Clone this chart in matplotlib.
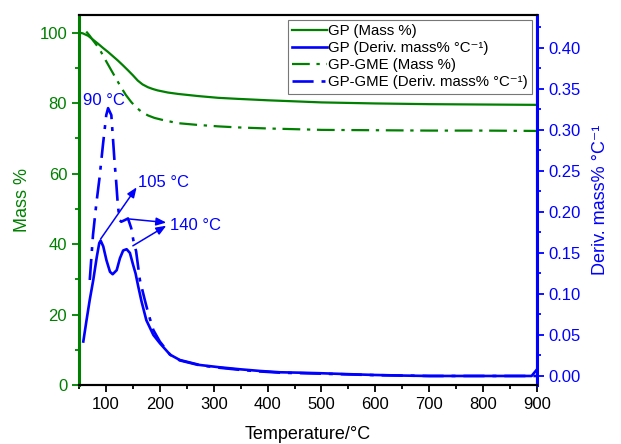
import numpy as np
import matplotlib.pyplot as plt

plt.rcParams.update({
    "font.family": ["Liberation Sans", "DejaVu Sans"],
    "font.size": 12,
    "axes.linewidth": 1.5,
})
GREEN, BLUE = "#008000", "#0000ff"

# ── TGA mass loss (%) ─────────────────────────────────────────────────────────
t_gp = [50, 57, 67, 76, 85, 95, 104, 113, 122, 131, 141, 150, 159, 168, 178,
        187, 196, 215, 234, 271, 308, 345, 400, 500, 600, 700, 800, 900]
mass_gp = [100.0, 99.8, 99.1, 98.0, 96.9, 95.6, 94.5, 93.3, 92.1, 90.8, 89.3,
           87.9, 86.4, 85.3, 84.5, 84.0, 83.6, 83.0, 82.6, 82.0, 81.5, 81.2,
           80.8, 80.2, 79.9, 79.7, 79.6, 79.5]

t_gme = [63.5, 70, 76, 84, 91, 100, 110, 119, 128, 137, 147, 156, 165.5, 178,
         190, 203, 218, 234, 271, 308, 345, 400, 500, 600, 700, 800, 900]
mass_gme = [100.3, 99.1, 97.8, 96.2, 94.5, 92.0, 89.3, 86.9, 84.5, 82.3, 80.3,
            78.8, 77.6, 76.5, 75.8, 75.3, 74.8, 74.3, 73.8, 73.4, 73.1, 72.8,
            72.4, 72.3, 72.2, 72.2, 72.1]

# ── DTG (deriv. mass % / °C) ──────────────────────────────────────────────────
td_gp = [58, 64, 70, 76.5, 83, 87.6, 90.2, 95, 101, 107.5, 112.5, 120, 126,
         132, 138.4, 144.5, 150.6, 155, 160, 166, 175, 188, 200, 219, 237, 274,
         311, 348, 386, 423, 460, 500, 550, 600, 650, 700, 800, 890, 900]
dtg_gp = [0.042, 0.068, 0.093, 0.117, 0.145, 0.162, 0.165, 0.158, 0.141, 0.127,
          0.124, 0.129, 0.1435, 0.153, 0.1545, 0.150, 0.135, 0.125, 0.109,
          0.091, 0.068, 0.050, 0.040, 0.026, 0.0195, 0.0134, 0.0106, 0.0082,
          0.0061, 0.0045, 0.0040, 0.0033, 0.0022, 0.0012, 0.0005, 0.0, 0.0,
          0.0, 0.008]

td_gme = [70, 76, 82, 88, 94.5, 100.6, 104, 110, 113, 116, 119, 122, 125.4,
          128.4, 135, 141, 147, 151, 156, 163, 172, 178.5, 188, 200, 219, 237,
          274, 311, 348, 386, 423, 500, 600, 700, 800, 900]
dtg_gme = [0.117, 0.172, 0.209, 0.241, 0.282, 0.318, 0.3265, 0.318, 0.290,
           0.261, 0.237, 0.209, 0.190, 0.188, 0.190, 0.192, 0.180, 0.165,
           0.152, 0.117, 0.093, 0.0765, 0.056, 0.042, 0.026, 0.019, 0.013,
           0.010, 0.0075, 0.0055, 0.0040, 0.0028, 0.001, 0.0, 0.0, 0.0]

fig = plt.figure(figsize=(6.21, 4.44), dpi=100)
ax = fig.add_axes([0.1272, 0.1329, 0.7375, 0.8333])
ax2 = ax.twinx()

dashdot = (0, (8, 3, 1.5, 3))
l1, = ax.plot(t_gp, mass_gp, color=GREEN, lw=1.6, label="GP (Mass %)")
l3, = ax.plot(t_gme, mass_gme, color=GREEN, lw=1.6, ls=dashdot,
              label="GP-GME (Mass %)")
l2, = ax2.plot(td_gp, dtg_gp, color=BLUE, lw=1.9,
               label="GP (Deriv. mass% °C⁻¹)")
l4, = ax2.plot(td_gme, dtg_gme, color=BLUE, lw=1.9, ls=dashdot,
               label="GP-GME (Deriv. mass% °C⁻¹)")

ax.set_xlim(50, 900)
ax.set_ylim(0, 105)
ax2.set_ylim(-0.011, 0.44)
ax.set_xticks(np.arange(100, 901, 100))
ax.set_xticks(np.arange(50, 901, 50), minor=True)
ax.set_yticks(np.arange(0, 101, 20))
ax.set_yticks(np.arange(0, 101, 10), minor=True)
ax2.set_yticks(np.arange(0, 0.41, 0.05))
ax2.set_yticks(np.arange(0, 0.43, 0.025), minor=True)
ax2.yaxis.set_major_formatter(plt.FormatStrFormatter("%.2f"))

ax.tick_params(axis="x", which="major", length=5, width=1.3, labelsize=12)
ax.tick_params(axis="x", which="minor", length=3, width=1.3)
ax.tick_params(axis="y", which="major", length=5, width=1.3, colors=GREEN,
               labelsize=12)
ax.tick_params(axis="y", which="minor", length=3, width=1.3, colors=GREEN)
ax2.tick_params(axis="y", which="major", length=5, width=1.3, colors=BLUE,
                labelsize=12)
ax2.tick_params(axis="y", which="minor", length=3, width=1.3, colors=BLUE)

ax.spines["left"].set_color(GREEN)
ax.spines["left"].set_linewidth(2.2)
ax2.spines["left"].set_visible(False)
ax2.spines["right"].set_color(BLUE)
ax2.spines["right"].set_linewidth(2.2)

ax.set_xlabel("Temperature/°C", fontsize=13, labelpad=10)
ax.set_ylabel("Mass %", fontsize=13, color=GREEN, labelpad=6)
ax2.set_ylabel("Deriv. mass% °C⁻¹", fontsize=13, color=BLUE, labelpad=8)

# peak annotations
ax.text(57, 80.8, "90 °C", color=BLUE, fontsize=12, va="center", ha="left")
ax.text(159, 57.5, "105 °C", color=BLUE, fontsize=12, va="center", ha="left")
ax.text(219, 45.2, "140 °C", color=BLUE, fontsize=12, va="center", ha="left")
arrow = dict(arrowstyle="-|>,head_length=0.5,head_width=0.2", color=BLUE,
             lw=1.1, shrinkA=0, shrinkB=0)
ax.annotate("", xy=(157, 56.1), xytext=(90, 41.4), arrowprops=arrow)
ax.annotate("", xy=(212, 46.1), xytext=(144, 47.1), arrowprops=arrow)
ax.annotate("", xy=(212, 45.2), xytext=(150, 39.5), arrowprops=arrow)

leg = ax2.legend(handles=[l1, l2, l3, l4], loc="upper right", fontsize=10.8,
                 frameon=True, fancybox=False, handlelength=2.3,
                 handletextpad=0.1, borderpad=0.3, labelspacing=0.2,
                 borderaxespad=0.3)
leg.get_frame().set_edgecolor("#555555")
leg.get_frame().set_linewidth(0.8)

fig.savefig("out.png", dpi=100)
